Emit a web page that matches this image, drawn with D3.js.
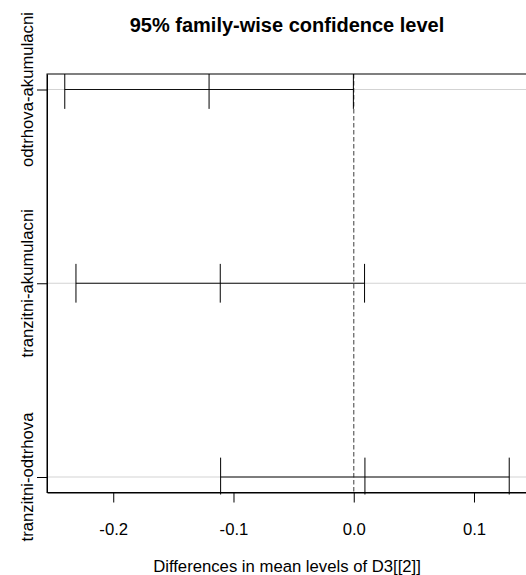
<!DOCTYPE html>
<html>
<head>
<meta charset="utf-8">
<script src="https://cdn.jsdelivr.net/npm/d3@7"></script>
<style>
  html, body { margin: 0; padding: 0; background: #fff; }
  svg { display: block; font-family: "Liberation Sans", Arial, sans-serif; }
</style>
</head>
<body>
<svg id="chart" width="526" height="575"></svg>
<script>
// Tukey HSD comparisons: estimated difference and simultaneous 95% bounds
const comparisons = ["odtrhova-akumulacni", "tranzitni-akumulacni", "tranzitni-odtrhova"];
const diffs = [-0.1203, -0.1110, 0.0093];
const lower = [-0.2403, -0.2310, -0.1107];
const upper = [-0.0003, 0.0090, 0.1293];

const xTicks = [-0.2, -0.1, 0.0, 0.1];
const xTickLabels = ["-0.2", "-0.1", "0.0", "0.1"];

const titleText = "95% family-wise confidence level";
const xTitle = "Differences in mean levels of D3[[2]]";

const svg = d3.select("#chart");
const plot = { left: 47, right: 527, top: 74, bottom: 492.5 };

// row positions: first comparison on top (n .. 1)
const n = comparisons.length;
const yvals = comparisons.map((_, i) => n - i);

// axis limits padded by 4% like base graphics
const lo = d3.min(lower), hi = d3.max(upper);
const padX = (hi - lo) * 0.04;
const x = d3.scaleLinear().domain([lo - padX, hi + padX]).range([plot.left, plot.right]);
const padY = (n - 1) * 0.04;
const y = d3.scaleLinear().domain([1 - padY, n + padY]).range([plot.bottom, plot.top]);

svg.append("defs").append("clipPath").attr("id", "clip")
  .append("rect")
  .attr("x", plot.left).attr("y", plot.top)
  .attr("width", plot.right - plot.left).attr("height", plot.bottom - plot.top + 2);

const g = svg.append("g").attr("clip-path", "url(#clip)");

// light grey reference lines at each comparison
g.selectAll("line.ref").data(yvals).join("line")
  .attr("class", "ref")
  .attr("x1", plot.left).attr("x2", plot.right)
  .attr("y1", d => y(d)).attr("y2", d => y(d))
  .attr("stroke", "#d3d3d3").attr("stroke-width", 1);

// dashed zero line
g.append("line")
  .attr("x1", x(0)).attr("x2", x(0))
  .attr("y1", plot.top).attr("y2", plot.bottom)
  .attr("stroke", "#6a6a6a").attr("stroke-width", 1.3)
  .attr("stroke-dasharray", "4.5,2.5");

// interval segments
g.selectAll("line.seg").data(comparisons).join("line")
  .attr("class", "seg")
  .attr("x1", (d, i) => x(lower[i])).attr("x2", (d, i) => x(upper[i]))
  .attr("y1", (d, i) => y(yvals[i])).attr("y2", (d, i) => y(yvals[i]))
  .attr("stroke", "#111").attr("stroke-width", 1);

// vertical bars at lower, estimate and upper
const bars = [];
comparisons.forEach((c, i) => {
  [lower[i], diffs[i], upper[i]].forEach(v => bars.push({ v, row: yvals[i] }));
});
g.selectAll("line.bar").data(bars).join("line")
  .attr("class", "bar")
  .attr("x1", d => x(d.v)).attr("x2", d => x(d.v))
  .attr("y1", d => y(d.row - 0.1)).attr("y2", d => y(d.row + 0.1))
  .attr("stroke", "#000").attr("stroke-width", 1);

// plot frame
svg.append("rect")
  .attr("x", plot.left).attr("y", plot.top)
  .attr("width", plot.right - plot.left).attr("height", plot.bottom - plot.top)
  .attr("fill", "none").attr("stroke", "#000").attr("stroke-width", 1);

// x axis
const xAxis = d3.axisBottom(x)
  .tickValues(xTicks)
  .tickFormat((d, i) => xTickLabels[i])
  .tickSize(10).tickSizeOuter(0).tickPadding(21);
const xg = svg.append("g").attr("transform", `translate(0,${plot.bottom})`).call(xAxis);
xg.select(".domain").attr("stroke", "#000");
xg.selectAll(".tick line").attr("stroke", "#000");
xg.selectAll(".tick text")
  .attr("fill", "#000").attr("font-size", "16.7px")
  .attr("font-family", "Liberation Sans, Arial, sans-serif");

// y axis ticks
const yAxis = d3.axisLeft(y).tickValues(yvals).tickFormat("").tickSize(10).tickSizeOuter(0);
const yg = svg.append("g").attr("transform", `translate(${plot.left},0)`).call(yAxis);
yg.select(".domain").attr("stroke", "#000");
yg.selectAll(".tick line").attr("stroke", "#000");

// rotated comparison labels
svg.selectAll("text.ylab").data(comparisons).join("text")
  .attr("class", "ylab")
  .attr("transform", (d, i) => `translate(33,${y(yvals[i])}) rotate(-90)`)
  .attr("text-anchor", "middle")
  .attr("font-size", "16.7px")
  .attr("fill", "#000")
  .text(d => d);

// title
svg.append("text")
  .attr("x", (plot.left + plot.right) / 2).attr("y", 32)
  .attr("text-anchor", "middle")
  .attr("font-size", "20px").attr("font-weight", "bold")
  .attr("fill", "#000")
  .text(titleText);

// x axis title
svg.append("text")
  .attr("x", (plot.left + plot.right) / 2).attr("y", 572)
  .attr("text-anchor", "middle")
  .attr("font-size", "16.7px")
  .attr("fill", "#000")
  .text(xTitle);
</script>
</body>
</html>
